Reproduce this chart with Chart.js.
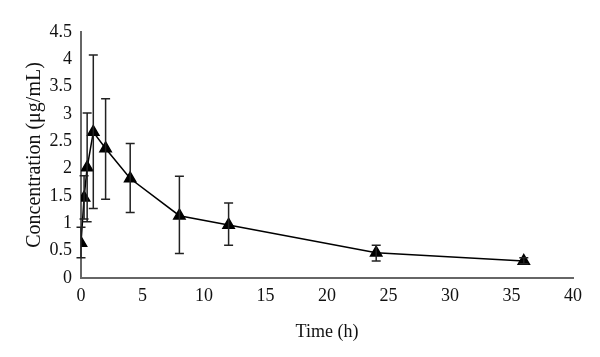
<!DOCTYPE html>
<html>
<head>
<meta charset="utf-8">
<script src="https://cdn.jsdelivr.net/npm/chart.js@4/dist/chart.umd.min.js"></script>
<style>
html,body{margin:0;padding:0;background:#fff;}
#wrap{width:600px;height:357px;position:relative;}
</style>
</head>
<body>
<div id="wrap"><canvas id="c" width="600" height="357"></canvas></div>
<script>
const times = [0, 0.25, 0.5, 1, 2, 4, 8, 12, 24, 36];
const concentration = [0.64, 1.47, 2.02, 2.67, 2.37, 1.82, 1.14, 0.97, 0.46, 0.31];
const errUpper = [0.93, 1.87, 3.02, 4.08, 3.28, 2.46, 1.86, 1.37, 0.60, 0.37];
const errLower = [0.37, 1.08, 1.03, 1.27, 1.44, 1.20, 0.45, 0.60, 0.31, 0.26];
const xTicks = [0, 5, 10, 15, 20, 25, 30, 35, 40];
const yTicks = [0, 0.5, 1, 1.5, 2, 2.5, 3, 3.5, 4, 4.5];

const FONT = "'Liberation Serif', 'DejaVu Serif', serif";

const errorBars = {
  id: 'errorBars',
  afterDatasetsDraw(chart) {
    const ctx = chart.ctx;
    const xs = chart.scales.x, ys = chart.scales.y;
    ctx.save();
    ctx.strokeStyle = '#222';
    ctx.lineWidth = 1.5;
    for (let i = 0; i < times.length; i++) {
      const px = xs.getPixelForValue(times[i]);
      const pu = ys.getPixelForValue(errUpper[i]);
      const pl = ys.getPixelForValue(errLower[i]);
      ctx.beginPath();
      ctx.moveTo(px, pu); ctx.lineTo(px, pl);
      ctx.moveTo(px - 4.5, pu); ctx.lineTo(px + 4.5, pu);
      ctx.moveTo(px - 4.5, pl); ctx.lineTo(px + 4.5, pl);
      ctx.stroke();
    }
    ctx.restore();
  }
};

new Chart(document.getElementById('c'), {
  type: 'scatter',
  data: {
    datasets: [{
      data: times.map((t, i) => ({x: t, y: concentration[i]})),
      showLine: true,
      borderColor: '#000',
      borderWidth: 1.5,
      backgroundColor: '#000',
      pointStyle: 'triangle',
      pointRadius: 6.5,
      pointHoverRadius: 6.5,
      tension: 0
    }]
  },
  options: {
    responsive: false,
    animation: false,
    events: [],
    layout: { padding: { top: 32, right: 27, left: 23, bottom: 14 } },
    plugins: { legend: { display: false }, tooltip: { enabled: false } },
    scales: {
      x: {
        type: 'linear', min: 0, max: 40,
        afterBuildTicks(s) { s.ticks = xTicks.map(v => ({value: v})); },
        afterFit(s) { s.height = 65; },
        grid: { display: false, drawTicks: false },
        border: { display: true, color: '#666', width: 2 },
        ticks: { color: '#111', font: { family: FONT, size: 18 }, padding: 7, callback: v => String(v) },
        title: { display: true, text: 'Time (h)', color: '#111', font: { family: FONT, size: 18 }, padding: { top: 0, bottom: 0 } }
      },
      y: {
        type: 'linear', min: 0, max: 4.5,
        afterBuildTicks(s) { s.ticks = yTicks.map(v => ({value: v})); },
        afterFit(s) { s.width = 58; },
        grid: { display: false, drawTicks: false },
        border: { display: true, color: '#666', width: 2 },
        ticks: { color: '#111', font: { family: FONT, size: 18 }, padding: 9, callback: v => String(v) },
        title: { display: true, text: 'Concentration (\u03bcg/mL)', color: '#111', font: { family: FONT, size: 20 }, padding: { top: 0, bottom: 0 } }
      }
    }
  },
  plugins: [errorBars]
});
</script>
</body>
</html>
